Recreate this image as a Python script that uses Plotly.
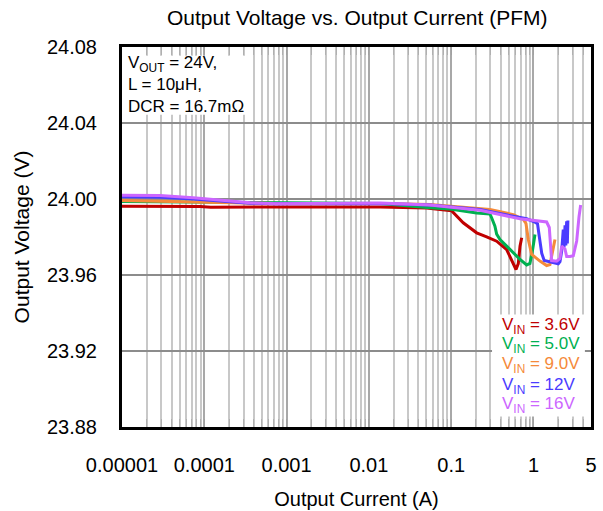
import numpy as np
import plotly.graph_objects as go

# ---------------- data ----------------
i_36 = [1e-5, 5e-5, 8.9e-5, 1.2e-4, 1e-3, 0.0137, 0.05, 0.101, 0.14, 0.204, 0.27, 0.357, 0.472, 0.543, 0.613, 0.654, 0.686, 0.719]
v_36 = [23.9962, 23.9962, 23.9961, 23.9957, 23.9957, 23.9958, 23.9952, 23.9938, 23.9875, 23.9822, 23.9801, 23.9778, 23.9734, 23.9682, 23.9629, 23.9660, 23.9752, 23.9796]

i_50 = [1e-5, 1e-4, 1e-3, 0.0137, 0.0553, 0.0966, 0.204, 0.296, 0.311, 0.34, 0.357, 0.392, 0.472, 0.569, 0.686, 0.826, 0.906, 0.977, 1.043]
v_50 = [23.9987, 23.9984, 23.9979, 23.9976, 23.9954, 23.9947, 23.9926, 23.9921, 23.9900, 23.9857, 23.9815, 23.9787, 23.9752, 23.9717, 23.9682, 23.9653, 23.9661, 23.9734, 23.9813]

i_90 = [1e-5, 8.9e-5, 3.6e-4, 1e-3, 0.0137, 0.0553, 0.296, 0.569, 0.752, 0.811, 0.865, 0.951, 1.199, 1.446, 1.586, 1.709, 1.825]
v_90 = [23.9992, 23.9983, 23.9976, 23.9975, 23.9976, 23.9971, 23.9945, 23.9918, 23.9892, 23.9871, 23.9787, 23.9708, 23.9673, 23.9650, 23.9655, 23.9734, 23.9787]

i_12 = [1e-5, 3e-5, 7.35e-5, 1.55e-4, 3.6e-4, 7.6e-4, 0.0137, 0.0553, 0.224, 0.569, 0.826, 1.043, 1.12, 1.17, 1.26, 1.35, 1.6, 2.0, 2.1,
        2.2, 2.3, 2.35, 2.42, 2.47, 2.53, 2.58, 2.62]
v_12 = [24.0012, 24.0009, 24.0000, 23.9988, 23.9978, 23.9975, 23.9976, 23.9968, 23.9945, 23.9909, 23.9896, 23.9878, 23.9870, 23.9809, 23.9714, 23.9676, 23.9667, 23.9659, 23.9671,
        23.9724, 23.9839, 23.9745, 23.9861, 23.9755, 23.9882, 23.9766, 23.9887]

i_16 = [1e-5, 2.9e-5, 7.35e-5, 1.55e-4, 3.59e-4, 7.6e-4, 0.0137, 0.0553, 0.224, 0.686, 1.093, 1.446, 1.556, 1.617, 1.662, 1.913, 2.099, 2.202, 2.414, 2.531, 2.776, 3.045, 3.35, 3.572, 3.743]
v_16 = [24.0020, 24.0018, 24.0006, 23.9992, 23.9980, 23.9975, 23.9979, 23.9968, 23.9941, 23.9896, 23.9887, 23.9879, 23.9850, 23.9761, 23.9676, 23.9673, 23.9687, 23.9752, 23.9737, 23.9697, 23.9697, 23.9701, 23.9779, 23.9905, 23.9968]

series_names = ["V<sub>IN</sub> = 3.6V", "V<sub>IN</sub> = 5.0V", "V<sub>IN</sub> = 9.0V", "V<sub>IN</sub> = 12V", "V<sub>IN</sub> = 16V"]
series_colors = ["#C00000", "#00B050", "#F58A3A", "#4B3BFF", "#CC66FF"]
series_i = [i_36, i_50, i_90, i_12, i_16]
series_v = [v_36, v_50, v_90, v_12, v_16]

x_tickvals = [1e-5, 1e-4, 1e-3, 1e-2, 1e-1, 1, 5]
x_ticktext = ["0.00001", "0.0001", "0.001", "0.01", "0.1", "1", "5"]
y_tickvals = [23.88, 23.92, 23.96, 24.00, 24.04, 24.08]

FONT = "Arial, Liberation Sans, sans-serif"

fig = go.Figure()
for name, col, xi, yv in zip(series_names, series_colors, series_i, series_v):
    fig.add_trace(go.Scatter(x=xi, y=yv, mode="lines", name=name,
                             line=dict(color=col, width=3), showlegend=False))

minor_vals = [k * 10.0 ** n for n in range(-5, 1) for k in range(2, 10)] + [2, 3, 4]

fig.update_layout(
    width=603, height=511,
    margin=dict(l=122, r=12, t=47, b=84, autoexpand=False),
    paper_bgcolor="white", plot_bgcolor="white",
    title=dict(text="Output Voltage vs. Output Current (PFM)", x=0.5925, xanchor="center",
               y=1 - 18 / 511, yanchor="middle", font=dict(family=FONT, size=21, color="black")),
    xaxis=dict(type="log", range=[-5, np.log10(5)], tickvals=x_tickvals, ticktext=x_ticktext,
               ticks="inside", ticklen=8, tickcolor="#a0a0a0",
               showgrid=True, gridcolor="#a8a8a8", gridwidth=1.5,
               minor=dict(tickvals=minor_vals, ticks="inside", ticklen=8, tickcolor="#b0b0b0",
                          showgrid=True, gridcolor="#c8c8c8", gridwidth=1.5),
               showline=True, linecolor="black", linewidth=3, mirror="ticks", automargin=False,
               tickfont=dict(family=FONT, size=20, color="black"), ticklabelstandoff=18,
               title=dict(text="Output Current (A)", font=dict(family=FONT, size=20, color="black"), standoff=17),
               zeroline=False),
    yaxis=dict(range=[23.88, 24.08], tickvals=y_tickvals, tickformat=".2f",
               ticks="", showgrid=True, gridcolor="#8c8c8c", gridwidth=2,
               showline=True, linecolor="black", linewidth=3, mirror=True, automargin=False,
               tickfont=dict(family=FONT, size=20, color="black"), ticklabelstandoff=18,
               title=dict(text="Output Voltage (V)", font=dict(family=FONT, size=21, color="black"), standoff=12),
               zeroline=False),
)

# white boxes behind the note and the colour key
fig.add_shape(type="rect", xref="paper", yref="paper", x0=0.004, x1=0.273, y0=0.822, y1=0.977,
              fillcolor="white", line=dict(width=0), layer="above")
fig.add_shape(type="rect", xref="paper", yref="paper", x0=0.789, x1=0.987, y0=0.0276, y1=0.296,
              fillcolor="white", line=dict(width=0), layer="above")

fig.add_annotation(xref="paper", yref="paper", x=0.008, y=0.99, xanchor="left", yanchor="top",
                   align="left", showarrow=False,
                   text="V<sub>OUT</sub> = 24V,<br>L = 10μH,<br>DCR = 16.7mΩ",
                   font=dict(family=FONT, size=17, color="black"))

legend_y = [0.267, 0.2145, 0.162, 0.109, 0.0566]
for name, col, yy in zip(series_names, series_colors, legend_y):
    fig.add_annotation(xref="paper", yref="paper", x=0.806, y=yy, xanchor="left", yanchor="middle",
                       showarrow=False, text=name, font=dict(family=FONT, size=17, color=col))

fig.write_html("out.html")
